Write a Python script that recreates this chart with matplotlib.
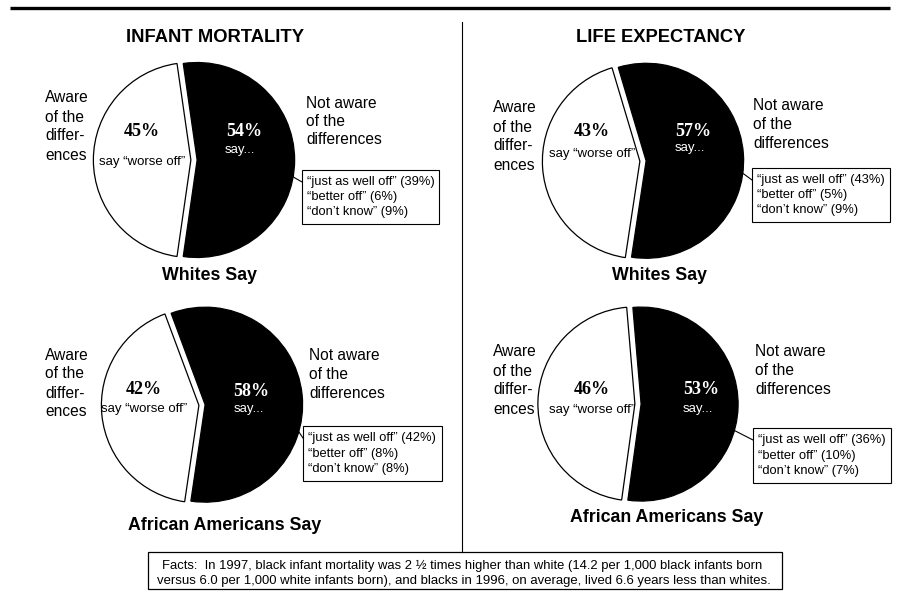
import matplotlib
matplotlib.use("Agg")
import matplotlib.pyplot as plt
from matplotlib.patches import Rectangle
import numpy as np

# survey data, panels in order: infant/whites, infant/african americans,
# life/whites, life/african americans
topics = ["INFANT MORTALITY", "LIFE EXPECTANCY"]
groups = ["Whites Say", "African Americans Say", "Whites Say", "African Americans Say"]
aware = [45, 42, 43, 46]
not_aware = [54, 58, 57, 53]
just_as_well = [39, 42, 43, 36]
better_off = [6, 8, 5, 10]
dont_know = [9, 8, 9, 7]

aware_lines = ["Aware", "of the", "differ-", "ences"]
not_aware_lines = ["Not aware", "of the", "differences"]
facts_lines = [
    "Facts:  In 1997, black infant mortality was 2 \u00bd times higher than white (14.2 per 1,000 black infants born",
    "versus 6.0 per 1,000 white infants born), and blacks in 1996, on average, lived 6.6 years less than whites.",
]

W, H = 897, 592
SANS = "Liberation Sans"
SERIF = "Liberation Serif"

# layout of each panel in pixel units (y measured from the top)
layout = [
    dict(c=(194, 160), r=97.5, ang=180, aware=(45, 98), pw=(142, 132), sw=(142, 162),
         pb=(244, 132), sb=(240, 150), nota=(306, 103), box=(302, 170, 439, 224),
         conn=-9, group=(210, 276)),
    dict(c=(202, 405), r=97.5, ang=186, aware=(45, 355), pw=(144, 390), sw=(144, 409),
         pb=(251, 392), sb=(249, 409), nota=(309, 356), box=(303, 426, 442, 481),
         conn=-14, group=(225, 525)),
    dict(c=(643, 161), r=97.5, ang=184, aware=(493, 108), pw=(592, 132), sw=(592, 154),
         pb=(693, 132), sb=(690, 148), nota=(753, 106), box=(752, 168, 890, 222),
         conn=-6, group=(660, 276)),
    dict(c=(638, 404), r=97, ang=178.5, aware=(493, 352), pw=(592, 390), sw=(592, 410),
         pb=(701, 390), sb=(698, 409), nota=(755, 352), box=(753, 428, 891, 483),
         conn=-15, group=(667, 517)),
]
title_pos = [(215, 37), (661, 37)]


def Y(y):
    return H - y


fig = plt.figure(figsize=(W / 100, H / 100), dpi=100)
ax = fig.add_axes([0, 0, 1, 1])

for i, lay in enumerate(layout):
    cx, cy = lay["c"]
    a, b = aware[i], not_aware[i]
    start = lay["ang"] - 180.0 * a / (a + b)
    # explode is in data units here, so scale it by the radius
    gap = 0.032 * lay["r"]
    ax.pie([a, b], colors=["white", "black"], startangle=start,
           center=(cx, Y(cy)), radius=lay["r"], explode=[gap, gap],
           wedgeprops=dict(edgecolor="black", linewidth=0.9))

    # side labels
    x0, y0 = lay["aware"]
    for k, line in enumerate(aware_lines):
        ax.text(x0, Y(y0 + k * 19), line, family=SANS, fontsize=11.2,
                ha="left", va="center")
    x0, y0 = lay["nota"]
    for k, line in enumerate(not_aware_lines):
        ax.text(x0, Y(y0 + k * 18.5), line, family=SANS, fontsize=11.2,
                ha="left", va="center")

    # labels inside the pie
    ax.text(lay["pw"][0], Y(lay["pw"][1]), f"{a}%", family=SERIF, weight="bold",
            fontsize=13, ha="center", va="center")
    ax.text(lay["sw"][0], Y(lay["sw"][1]), "say \u201cworse off\u201d", family=SANS,
            fontsize=9.5, ha="center", va="center")
    ax.text(lay["pb"][0], Y(lay["pb"][1]), f"{b}%", family=SERIF, weight="bold",
            fontsize=13, ha="center", va="center", color="white")
    ax.text(lay["sb"][0], Y(lay["sb"][1]), "say...", family=SANS,
            fontsize=9.5, ha="center", va="center", color="white")

    # breakdown box
    bx0, by0, bx1, by1 = lay["box"]
    ax.add_patch(Rectangle((bx0, Y(by1)), bx1 - bx0, by1 - by0, facecolor="white",
                           edgecolor="black", linewidth=0.8))
    box_lines = [f"\u201cjust as well off\u201d ({just_as_well[i]}%)",
                 f"\u201cbetter off\u201d ({better_off[i]}%)",
                 f"\u201cdon\u2019t know\u201d ({dont_know[i]}%)"]
    lh = (by1 - by0) / 3.6
    for k, line in enumerate(box_lines):
        ax.text(bx0 + 5, Y(by0 + lh * (0.8 + k)), line, family=SANS, fontsize=9.3,
                ha="left", va="center")
    t = np.radians(lay["conn"])
    ex, ey = cx + lay["r"] * np.cos(t), cy - lay["r"] * np.sin(t)
    ax.plot([ex, bx0], [Y(ey), Y(by0 + 12)], color="black", linewidth=0.8)

    ax.text(lay["group"][0], Y(lay["group"][1]), groups[i], family=SANS,
            weight="bold", fontsize=12.8, ha="center", va="center")

for (tx, ty), topic in zip(title_pos, topics):
    ax.text(tx, Y(ty), topic, family=SANS, weight="bold", fontsize=13.2,
            ha="center", va="center")

# rules
ax.plot([10, 890], [Y(8), Y(8)], color="black", linewidth=2.4, solid_capstyle="butt")
ax.plot([462, 462], [Y(22), Y(552)], color="black", linewidth=0.8)

# facts box
ax.add_patch(Rectangle((148, Y(589)), 782 - 148, 589 - 552, facecolor="white",
                       edgecolor="black", linewidth=0.9))
ax.text(162, Y(566), facts_lines[0], family=SANS, fontsize=9.35,
        ha="left", va="center")
ax.text(157, Y(581), facts_lines[1], family=SANS, fontsize=9.45,
        ha="left", va="center")

ax.set_xlim(0, W)
ax.set_ylim(0, H)
ax.set_aspect("equal")
ax.axis("off")

fig.savefig("out.png", dpi=100, facecolor="white")
